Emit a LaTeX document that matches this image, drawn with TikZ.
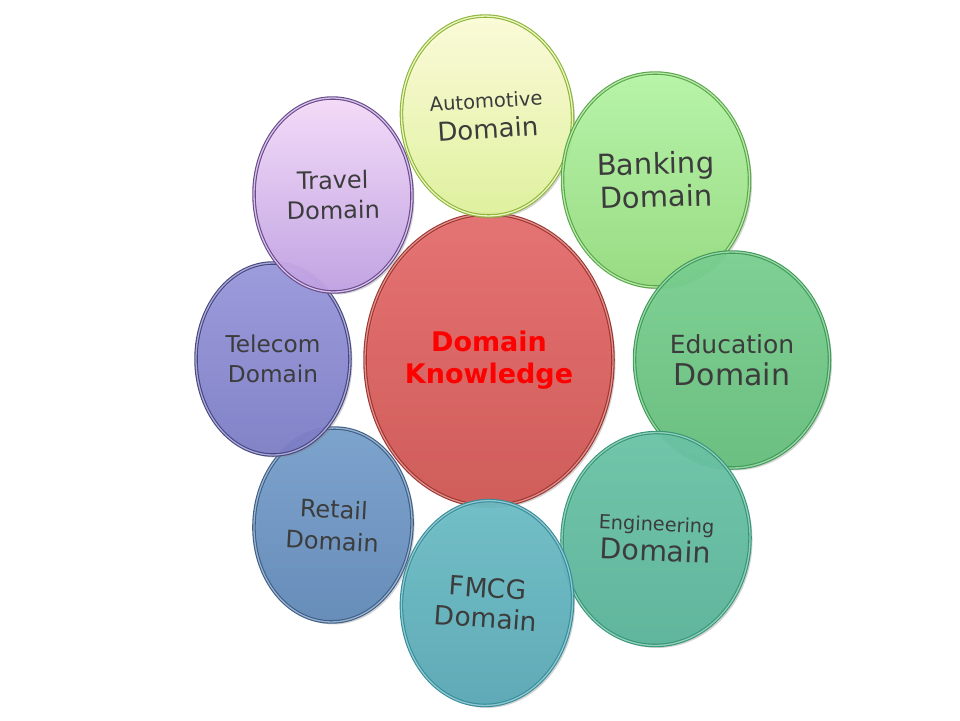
\documentclass[tikz,border=0pt]{standalone}
\usepackage{fontspec}
\setmainfont{DejaVu Sans}
\usetikzlibrary{shapes.geometric}
\usetikzlibrary{shadows}

\definecolor{txtgray}{HTML}{3C3C3C}
\definecolor{kred}{HTML}{FF0000}
\definecolor{coreTop}{HTML}{E66C6C}
\definecolor{coreBot}{HTML}{D05450}
\definecolor{coreRim}{HTML}{9C3530}
\definecolor{autoTop}{HTML}{FFFFDA}
\definecolor{autoBot}{HTML}{E0F29A}
\definecolor{autoRim}{HTML}{8EB43E}
\definecolor{bankTop}{HTML}{B6F6A6}
\definecolor{bankBot}{HTML}{94DC7E}
\definecolor{bankRim}{HTML}{58A648}
\definecolor{eduTop}{HTML}{78D090}
\definecolor{eduBot}{HTML}{64BE7A}
\definecolor{eduRim}{HTML}{3E9A56}
\definecolor{engTop}{HTML}{6AC4A6}
\definecolor{engBot}{HTML}{58B498}
\definecolor{engRim}{HTML}{369676}
\definecolor{fmcgTop}{HTML}{6CBEC6}
\definecolor{fmcgBot}{HTML}{58A8B6}
\definecolor{fmcgRim}{HTML}{348E9A}
\definecolor{retTop}{HTML}{76A0CC}
\definecolor{retBot}{HTML}{6088B8}
\definecolor{retRim}{HTML}{3E5E84}
\definecolor{telTop}{HTML}{9898DE}
\definecolor{telBot}{HTML}{7C7CC6}
\definecolor{telRim}{HTML}{46467E}
\definecolor{travTop}{HTML}{F6DCFA}
\definecolor{travBot}{HTML}{C0A0E4}
\definecolor{travRim}{HTML}{684A88}

\begin{document}
\begin{tikzpicture}[x=1pt, y=-1pt,
  bubble/.style n args={3}{ellipse, inner sep=0pt, align=center, text=txtgray,
    top color=#1, bottom color=#2, draw=#3, line width=1.1pt,
    double=white!35!#2, double distance=1.3pt,
    fill opacity=0.93, text opacity=1,
    drop shadow={opacity=0.35, shadow xshift=2.5pt, shadow yshift=-2.5pt}}]
\useasboundingbox (0,0) rectangle (960,720);

% centre
\node[bubble={coreTop}{coreBot}{coreRim}, minimum width=248pt, minimum height=292pt,
  text=kred, font=\bfseries\fontsize{27}{32}\selectfont] (core) at (489,360) {Domain\\Knowledge};

% ring of domains
\node[bubble={autoTop}{autoBot}{autoRim}, minimum width=171pt, minimum height=200pt, rotate=3.5,
  font=\fontsize{26}{30}\selectfont] (auto) at (487,116) {{\fontsize{19.5}{22}\selectfont Automotive}\\Domain};
\node[bubble={bankTop}{bankBot}{bankRim}, minimum width=187pt, minimum height=214pt, rotate=1.5,
  font=\fontsize{29}{33}\selectfont] (bank) at (656,180) {Banking\\Domain};
\node[bubble={eduTop}{eduBot}{eduRim}, minimum width=195pt, minimum height=216pt,
  font=\fontsize{30}{32}\selectfont] (edu) at (732,360) {{\fontsize{25}{28}\selectfont Education}\\Domain};
\node[bubble={engTop}{engBot}{engRim}, minimum width=188pt, minimum height=213pt, rotate=-2.5,
  font=\fontsize{28.5}{30}\selectfont] (eng) at (656,539) {{\fontsize{19.3}{22}\selectfont Engineering}\\Domain};
\node[bubble={fmcgTop}{fmcgBot}{fmcgRim}, minimum width=171pt, minimum height=205pt, rotate=-4,
  font=\fontsize{26.5}{30}\selectfont] (fmcg) at (487,603) {FMCG\\Domain};
\node[bubble={retTop}{retBot}{retRim}, minimum width=158pt, minimum height=194pt, rotate=-3,
  font=\fontsize{24}{32}\selectfont] (retail) at (333,525) {Retail\\Domain};
\node[bubble={telTop}{telBot}{telRim}, minimum width=154pt, minimum height=192pt,
  font=\fontsize{23.2}{30}\selectfont] (tele) at (273,359) {Telecom\\Domain};
\node[bubble={travTop}{travBot}{travRim}, minimum width=158pt, minimum height=194pt, rotate=1,
  font=\fontsize{24}{30}\selectfont] (travel) at (333,195) {Travel\\Domain};
\end{tikzpicture}
\end{document}
